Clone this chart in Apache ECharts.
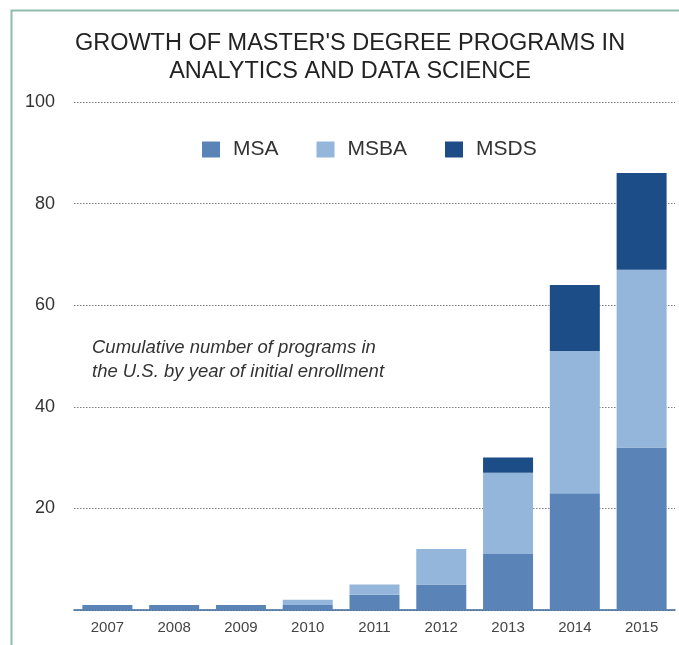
<!DOCTYPE html>
<html>
<head>
<meta charset="utf-8">
<script src="https://cdn.jsdelivr.net/npm/echarts@6/dist/echarts.min.js"></script>
<style>
  html, body { margin: 0; padding: 0; background: #ffffff; }
  #chart { width: 679px; height: 645px; }
</style>
</head>
<body>
<div id="chart"></div>
<script>
// Cumulative number of master's programs by year of initial enrollment
const years = ['2007', '2008', '2009', '2010', '2011', '2012', '2013', '2014', '2015'];
const msa  = [1, 1, 1, 1, 3, 5, 11, 23, 32];
const msba = [0, 0, 0, 1, 2, 7, 16, 28, 35];
const msds = [0, 0, 0, 0, 0, 0, 3, 13, 19];
const yTicks = [0, 20, 40, 60, 80, 100];

const colors = { MSA: '#5a84b8', MSBA: '#93b6da', MSDS: '#1d4d87' };
const font = 'Liberation Sans, Arial, Helvetica, sans-serif';

const chart = echarts.init(document.getElementById('chart'), null, { renderer: 'canvas' });

function stackSeries(name, values) {
  return {
    name: name,
    type: 'bar',
    stack: 'total',
    barWidth: 50,
    itemStyle: { color: colors[name] },
    emphasis: { disabled: true },
    data: values
  };
}

chart.setOption({
  animation: false,
  backgroundColor: '#ffffff',
  title: {
    text: "GROWTH OF MASTER'S DEGREE PROGRAMS IN\nANALYTICS AND DATA SCIENCE",
    left: 345,
    textAlign: 'center',
    top: 25,
    textStyle: {
      fontFamily: font,
      fontSize: 23.5,
      fontWeight: 'normal',
      color: '#222222',
      lineHeight: 28
    }
  },
  legend: {
    left: 202,
    top: 139,
    padding: 0,
    itemWidth: 18,
    itemHeight: 16,
    itemGap: 38,
    icon: 'rect',
    textStyle: {
      fontFamily: font,
      fontSize: 21,
      color: '#333333',
      padding: [0, 0, 0, 8]
    },
    data: ['MSA', 'MSBA', 'MSDS']
  },
  grid: { left: 74, right: 4, top: 102, bottom: 35 },
  xAxis: {
    type: 'category',
    data: years,
    axisLine: { lineStyle: { color: '#3d6a9c', width: 1.5 } },
    axisTick: { show: false },
    axisLabel: {
      fontFamily: font,
      fontSize: 15,
      color: '#444444',
      margin: 10
    }
  },
  yAxis: {
    type: 'value',
    min: yTicks[0],
    max: yTicks[yTicks.length - 1],
    interval: 20,
    axisLine: { show: false },
    axisTick: { show: false },
    axisLabel: {
      fontFamily: font,
      fontSize: 18,
      color: '#333333',
      margin: 19,
      formatter: v => (v === 0 ? '' : String(v))
    },
    splitLine: {
      lineStyle: { color: '#7d7d7d', type: [1.5, 1.5], width: 1 }
    }
  },
  graphic: [
    {
      type: 'text',
      left: 92,
      top: 336,
      style: {
        text: 'Cumulative number of programs in\nthe U.S. by year of initial enrollment',
        fontFamily: font,
        fontSize: 18.5,
        fontStyle: 'italic',
        fill: '#333333',
        lineHeight: 24
      }
    },
    {
      type: 'polyline',
      shape: { points: [[11.5, 645], [11.5, 10.5], [679, 10.5]] },
      style: { stroke: '#8fbcad', lineWidth: 2, fill: null }
    }
  ],
  series: [
    stackSeries('MSA', msa),
    stackSeries('MSBA', msba),
    stackSeries('MSDS', msds)
  ]
});
</script>
</body>
</html>
